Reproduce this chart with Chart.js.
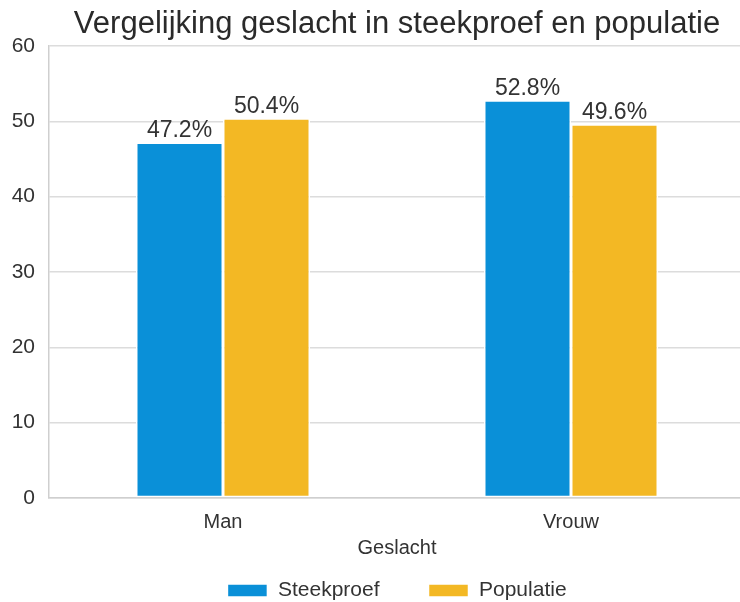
<!DOCTYPE html>
<html>
<head>
<meta charset="utf-8">
<script src="https://cdn.jsdelivr.net/npm/chart.js@4/dist/chart.umd.min.js"></script>
<style>
    html, body { margin: 0; padding: 0; background: #fff; overflow: hidden; }
    /* figure is a bit wider/taller than the window: title and legend are centred on the plot */
    #wrap { width: 794px; height: 611px; }
</style>
</head>
<body>
<div id="wrap"><canvas id="chart"></canvas></div>
<script>
/* Data */
const categories = ["Man", "Vrouw"];
const steekproef = [47.2, 52.8];
const populatie = [50.4, 49.6];
const yTicks = [0, 10, 20, 30, 40, 50, 60];

const COLORS = {
    blue: "#0a90d8",
    yellow: "#f3b824",
    grid: "#dcdcdc",
    axis: "#cfcfcf",
    text: "#333",
};

const FONT = "'Liberation Sans', Arial, sans-serif";
Chart.defaults.font.family = FONT;
Chart.defaults.color = COLORS.text;

/* Draw the percentage value above each bar */
const valueLabels = {
    id: "valueLabels",
    afterDatasetsDraw(chart) {
        const ctx = chart.ctx;
        ctx.save();
        ctx.font = "23px " + FONT;
        ctx.fillStyle = "#333";
        ctx.textAlign = "center";
        ctx.textBaseline = "alphabetic";
        chart.data.datasets.forEach((ds, i) => {
            chart.getDatasetMeta(i).data.forEach((bar, j) => {
                ctx.fillText(ds.data[j].toFixed(1) + "%", bar.x, bar.y - 5);
            });
        });
        ctx.restore();
    },
};

new Chart(document.getElementById("chart"), {
    type: "bar",
    data: {
        labels: categories,
        datasets: [
            { label: "Steekproef", data: steekproef, backgroundColor: COLORS.blue,
              borderColor: "#fff", borderWidth: 1.5, borderSkipped: false },
            { label: "Populatie", data: populatie, backgroundColor: COLORS.yellow,
              borderColor: "#fff", borderWidth: 1.5, borderSkipped: false },
        ],
    },
    options: {
        responsive: true,
        maintainAspectRatio: false,
        animation: false,
        layout: { padding: 0 },
        datasets: { bar: { categoryPercentage: 0.5, barPercentage: 1.0 } },
        plugins: {
            title: {
                display: true,
                text: "Vergelijking geslacht in steekproef en populatie",
                font: { size: 31, weight: "normal", lineHeight: 1 },
                color: "#2a2a2a",
                padding: { top: 8.5, bottom: 6.5 },
            },
            legend: {
                position: "bottom",
                labels: {
                    boxWidth: 40,
                    boxHeight: 13,
                    padding: 49,
                    font: { size: 21 },
                    color: "#333",
                },
            },
            tooltip: { enabled: false },
        },
        scales: {
            x: {
                grid: { display: false, drawTicks: false },
                border: { display: true, color: COLORS.axis, width: 1.5 },
                ticks: { font: { size: 20, lineHeight: 1 }, color: "#333", padding: 14 },
                title: {
                    display: true, text: "Geslacht",
                    font: { size: 20, lineHeight: 1 }, color: "#333",
                    padding: { top: -8, bottom: -27 },
                },
            },
            y: {
                min: 0,
                max: 60,
                afterBuildTicks: (axis) => { axis.ticks = yTicks.map(v => ({ value: v })); },
                afterFit: (axis) => { axis.width = 49; },
                grid: { color: COLORS.grid, lineWidth: 1.5, drawTicks: false },
                border: { display: true, color: COLORS.axis, width: 1.5 },
                ticks: { font: { size: 21 }, color: "#333", padding: 14 },
            },
            /* empty right axis, same width as the left one, keeps title/legend centred on the plot */
            yRight: {
                type: "linear",
                position: "right",
                grid: { display: false },
                border: { display: false },
                ticks: { display: false },
                afterFit: (axis) => { axis.width = 49; },
            },
        },
    },
    plugins: [valueLabels],
});
</script>
</body>
</html>
